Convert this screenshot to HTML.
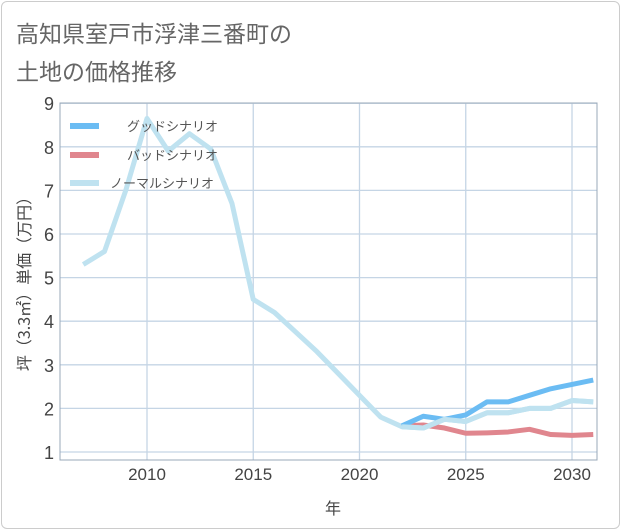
<!DOCTYPE html>
<html><head><meta charset="utf-8"><style>
body{margin:0;background:#fff;font-family:"Liberation Sans","Noto Sans CJK JP",sans-serif}
#card{position:absolute;left:1px;top:1px;width:617px;height:526px;border:1px solid #ccc;border-radius:6px;background:#fff}
</style></head><body>
<div id="card"></div>
<svg id="chart" width="621" height="530" style="position:absolute;left:0;top:0">
<text x="16" y="42" font-size="23" fill="#666" font-family="Noto Sans CJK JP, sans-serif">高知県室戸市浮津三番町の</text>
<text x="16" y="80" font-size="23" fill="#666" font-family="Noto Sans CJK JP, sans-serif">土地の価格推移</text>
<g id="grid"></g><g id="series"></g><g id="axes"></g>
<text x="333" y="514" font-size="16" fill="#444" text-anchor="middle" font-family="Noto Sans CJK JP, sans-serif">年</text>
<text transform="translate(30,280) rotate(-90)" font-size="16" fill="#444" text-anchor="middle" font-family="Noto Sans CJK JP, sans-serif">坪（3.3㎡）単価（万円）</text>
</svg>
<script>
const years=[2007,2008,2009,2010,2011,2012,2013,2014,2015,2016,2017,2018,2019,2020,2021,2022,2023,2024,2025,2026,2027,2028,2029,2030,2031];
const normal=[5.3,5.6,7.0,8.65,7.9,8.3,7.95,6.7,4.5,4.2,3.75,3.3,2.8,2.3,1.8,1.58,1.55,1.75,1.7,1.9,1.9,2.0,2.0,2.18,2.15];
const goodYears=[2022,2023,2024,2025,2026,2027,2028,2029,2030,2031];
const good=[1.6,1.82,1.75,1.85,2.15,2.15,2.3,2.45,2.55,2.65];
const bad=[1.6,1.62,1.55,1.43,1.44,1.46,1.52,1.4,1.38,1.4];
const xTicks=[2010,2015,2020,2025,2030];
const yTicks=[1,2,3,4,5,6,7,8,9];
const NS='http://www.w3.org/2000/svg';
const L=60,R=597,T=103,B=460;
const x=v=>147+(v-2010)*21.25;
const y=v=>452-(v-1)*43.6;
function mk(tag,attrs,parent){const e=document.createElementNS(NS,tag);for(const k in attrs)e.setAttribute(k,attrs[k]);document.getElementById(parent).appendChild(e);return e;}
yTicks.forEach(v=>{
 const g=mk('line',{x1:L,x2:R,y1:y(v),y2:y(v),stroke:'#c5d5e5','stroke-width':1.3},'grid');
 
 
 const t=mk('text',{x:L-6,y:y(v)+7,'font-size':18,fill:'#444','text-anchor':'end'},'axes');
 t.textContent=v;
 
 
});
xTicks.forEach(v=>{
 const g=mk('line',{x1:x(v),x2:x(v),y1:T,y2:B,stroke:'#c5d5e5','stroke-width':1.3},'grid');
 
 
 const t=mk('text',{x:x(v),y:B+20,'font-size':17,fill:'#444','text-anchor':'middle'},'axes');
 t.textContent=v;
 
 
});
const fr=mk('rect',{x:L,y:T,width:R-L,height:B-T,fill:'none',stroke:'#9aa8b8','stroke-width':1},'axes');


function line(xs,vs,color,name){
 const p=mk('polyline',{points:xs.map((yr,i)=>x(yr)+','+y(vs[i])).join(' '),fill:'none',stroke:color,'stroke-width':5,'stroke-linejoin':'round'},'series');
 
 
}
line(goodYears,bad,'#e0868e','bad-scenario-line');
line(years,normal,'#bfe2f0','normal-scenario-line');
line(goodYears,good,'#6bbcf3','good-scenario-line');
line(years.slice(15),normal.slice(15),'#bfe2f0','normal-scenario-line-front');
const leg=[['グッドシナリオ','#6bbcf3',126],['バッドシナリオ','#e0868e',155],['ノーマルシナリオ','#bfe2f0',183]];
leg.forEach(([n,c,yy])=>{
 const s=mk('line',{x1:70,x2:99,y1:yy,y2:yy,stroke:c,'stroke-width':6},'axes');
 
 
 const t=mk('text',{x:n.length>7?110:127,y:yy+5,'font-size':13,fill:'#555','font-family':'Noto Sans CJK JP, sans-serif'},'axes');
 t.textContent=n;
 
 
});
</script>
</body></html>
